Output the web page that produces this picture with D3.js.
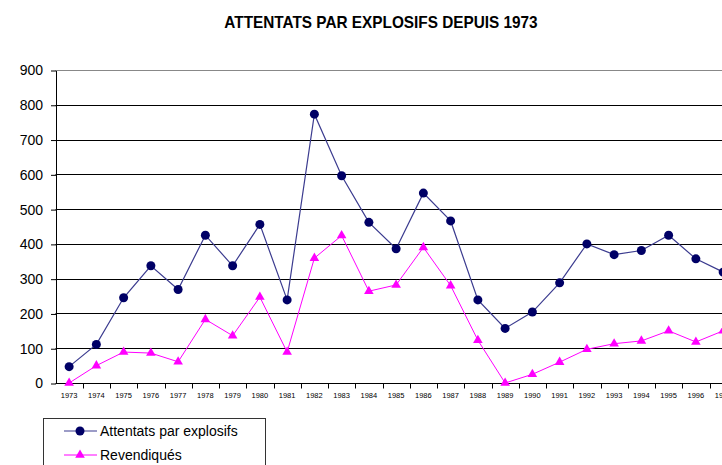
<!DOCTYPE html>
<html>
<head>
<meta charset="utf-8">
<script src="https://cdn.jsdelivr.net/npm/d3@7"></script>
<style>
	body { margin: 0; background: #fff; overflow: hidden; }
	svg { display: block; font-family: "Liberation Sans", Arial, sans-serif; }
</style>
</head>
<body>
<svg id="chart" width="722" height="465"></svg>
<script>
(function() {

	// DATA
	var years = ['1973','1974','1975','1976','1977','1978','1979','1980','1981','1982','1983','1984','1985',
		'1986','1987','1988','1989','1990','1991','1992','1993','1994','1995','1996','1997']
	var attentats = [47,111,245,337,269,425,337,456,239,773,596,462,386,546,466,239,157,204,288,400,369,381,425,357,319]
	var revendiques = [0,50,89,86,61,183,136,247,89,359,424,264,282,390,280,123,0,25,60,97,113,121,150,118,150]
	var yTicks = [0,100,200,300,400,500,600,700,800,900]

	var colorA = '#3b3b8f'
	var markA = '#000066'
	var colorR = '#ff00ff'

	var svg = d3.select('#chart')
	var left = 55.5, top = 70, bottom = 383, step = 27.25

	var x = d3.scaleBand()
		.domain(years)
		.range([left, left + step * years.length])
		.padding(0)

	var y = d3.scaleLinear()
		.domain([0, 900])
		.range([bottom, top])

	// title (condensed look, like Arial Narrow)
	svg.append('text')
		.attr('transform', 'translate(381,28) scale(0.93,1)')
		.attr('text-anchor', 'middle')
		.style('font-weight', 'bold')
		.style('font-size', '16.5px')
		.text('ATTENTATS PAR EXPLOSIFS DEPUIS 1973')

	// gridlines
	svg.append('g')
		.selectAll('line')
		.data(yTicks.slice(1))
		.enter().append('line')
		.attr('x1', left)
		.attr('x2', 722)
		.attr('y1', function(d) { return Math.round(y(d)) + 0.5 })
		.attr('y2', function(d) { return Math.round(y(d)) + 0.5 })
		.attr('stroke', function(d) { return d === 900 ? '#888' : '#000' })
		.attr('stroke-width', 1)

	// y axis
	var axisY = d3.axisLeft(y)
		.tickValues(yTicks)
		.tickSizeInner(5)
		.tickSizeOuter(0)
		.tickPadding(8)

	var gy = svg.append('g')
		.attr('transform', 'translate(' + (left + 0.5) + ',0.5)')
		.call(axisY)
	gy.selectAll('text')
		.style('font-size', '14px')
		.style('font-family', '"Liberation Sans", Arial, sans-serif')
		.attr('fill', '#000')

	// x axis
	var axisX = d3.axisBottom(x)
		.tickSize(0)
		.tickPadding(9)

	var gx = svg.append('g')
		.attr('transform', 'translate(0,' + (bottom + 0.5) + ')')
		.call(axisX)
	gx.select('.domain').attr('d', 'M' + left + ',0H722')
	gx.selectAll('text')
		.style('font-size', '7.5px')
		.style('font-family', '"Liberation Sans", Arial, sans-serif')
		.attr('fill', '#000')

	// category boundary ticks
	gx.append('g')
		.selectAll('line')
		.data(years)
		.enter().append('line')
		.attr('x1', function(d) { return Math.round(x(d) + step) + 0.5 })
		.attr('x2', function(d) { return Math.round(x(d) + step) + 0.5 })
		.attr('y1', 0)
		.attr('y2', 5)
		.attr('stroke', '#000')

	function cx(d, i) { return x(years[i]) + x.bandwidth() / 2 }

	var line = d3.line()
		.x(cx)
		.y(function(d) { return y(d) })

	// series lines
	svg.append('path')
		.datum(revendiques)
		.attr('d', line)
		.attr('fill', 'none')
		.attr('stroke', colorR)
		.attr('stroke-width', 1)

	svg.append('path')
		.datum(attentats)
		.attr('d', line)
		.attr('fill', 'none')
		.attr('stroke', colorA)
		.attr('stroke-width', 1.2)

	var tri = d3.symbol().type(d3.symbolTriangle).size(40)

	svg.append('g')
		.selectAll('path')
		.data(revendiques)
		.enter().append('path')
		.attr('d', tri)
		.attr('transform', function(d, i) { return 'translate(' + cx(d, i) + ',' + y(d) + ')' })
		.attr('fill', colorR)

	svg.append('g')
		.selectAll('circle')
		.data(attentats)
		.enter().append('circle')
		.attr('cx', cx)
		.attr('cy', function(d) { return y(d) })
		.attr('r', 4.5)
		.attr('fill', markA)

	// legend
	var legend = svg.append('g')
	legend.append('rect')
		.attr('x', 43.5)
		.attr('y', 418.5)
		.attr('width', 222)
		.attr('height', 60)
		.attr('fill', '#fff')
		.attr('stroke', '#333')

	var items = [
		{ name: 'Attentats par explosifs', color: colorA, mark: 'circle', y: 431 },
		{ name: 'Revendiqués', color: colorR, mark: 'triangle', y: 455 }
	]

	items.forEach(function(it) {
		legend.append('line')
			.attr('x1', 64).attr('x2', 97)
			.attr('y1', it.y).attr('y2', it.y)
			.attr('stroke', it.color)
			.attr('stroke-width', 1.2)
		if (it.mark === 'circle') {
			legend.append('circle')
				.attr('cx', 80).attr('cy', it.y).attr('r', 4.5)
				.attr('fill', markA)
		} else {
			legend.append('path')
				.attr('d', tri)
				.attr('transform', 'translate(80,' + it.y + ')')
				.attr('fill', colorR)
		}
		legend.append('text')
			.attr('x', 100)
			.attr('y', it.y + 5)
			.style('font-size', '14px')
			.text(it.name)
	})

})()
</script>
</body>
</html>
